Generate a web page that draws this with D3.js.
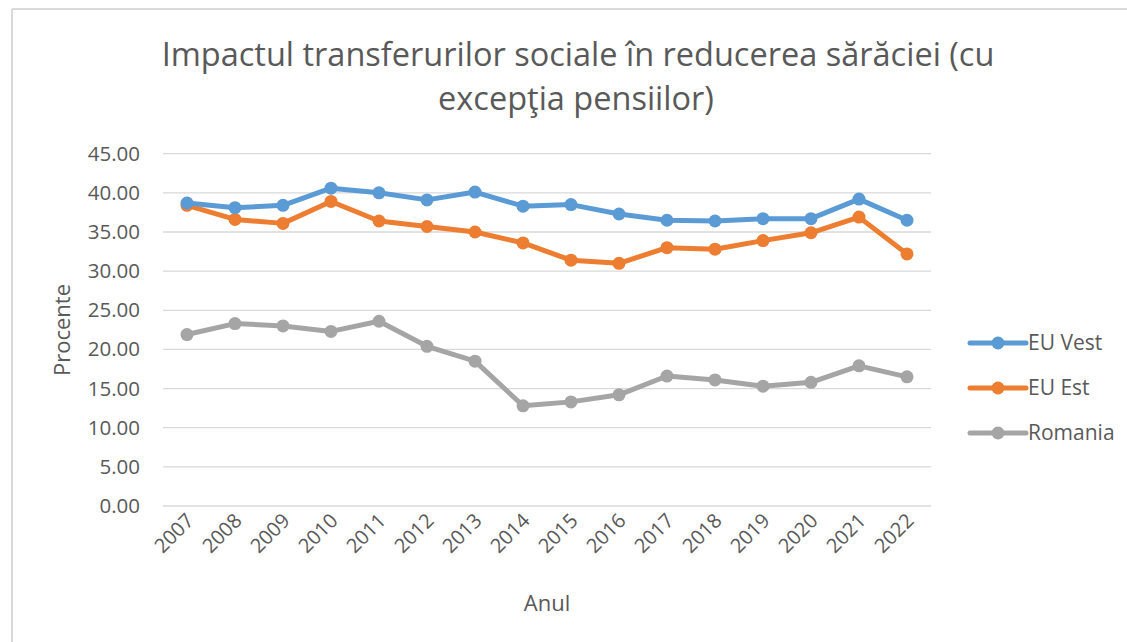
<!DOCTYPE html>
<html>
<head>
<meta charset="utf-8">
<script src="https://cdn.jsdelivr.net/npm/d3@7"></script>
<style>
  body { margin: 0; background: #fff; }
  text { font-family: "Open Sans", "Noto Sans", sans-serif; fill: #595959; }
</style>
</head>
<body>
<svg id="chart" width="1127" height="642"></svg>
<script>
// data
const years = ["2007","2008","2009","2010","2011","2012","2013","2014","2015","2016","2017","2018","2019","2020","2021","2022"];
const euVest = [38.7, 38.1, 38.4, 40.6, 40.0, 39.1, 40.1, 38.3, 38.5, 37.3, 36.5, 36.4, 36.7, 36.7, 39.2, 36.5];
const euEst = [38.4, 36.6, 36.1, 38.9, 36.4, 35.7, 35.0, 33.6, 31.4, 31.0, 33.0, 32.8, 33.9, 34.9, 36.9, 32.2];
const romania = [21.9, 23.3, 23.0, 22.3, 23.6, 20.4, 18.5, 12.8, 13.3, 14.2, 16.6, 16.1, 15.3, 15.8, 17.9, 16.5];
const seriesNames = ["EU Vest", "EU Est", "Romania"];
const seriesColors = ["#5B9BD5", "#ED7D31", "#A5A5A5"];
const yTicks = [0, 5, 10, 15, 20, 25, 30, 35, 40, 45];

const svg = d3.select("#chart");

// outer frame (only top & left visible)
svg.append("line").attr("x1", 12).attr("y1", 9).attr("x2", 1127).attr("y2", 9)
  .attr("stroke", "#D9D9D9").attr("stroke-width", 2);
svg.append("line").attr("x1", 12).attr("y1", 9).attr("x2", 12).attr("y2", 642)
  .attr("stroke", "#D9D9D9").attr("stroke-width", 2);

const margin = {left: 163, right: 931, top: 153.7, bottom: 506};

const x = d3.scaleBand().domain(years).range([margin.left, margin.right]);
const y = d3.scaleLinear().domain([0, 45]).range([margin.bottom, margin.top]);

// title
const title = svg.append("text").attr("text-anchor", "middle").style("font-size", "32.5px");
title.append("tspan").attr("x", 578).attr("y", 66).text("Impactul transferurilor sociale în reducerea sărăciei (cu");
title.append("tspan").attr("x", 576).attr("y", 110).text("excepţia pensiilor)");

// gridlines
svg.append("g")
  .selectAll("line")
  .data(yTicks)
  .join("line")
    .attr("x1", margin.left).attr("x2", margin.right)
    .attr("y1", d => y(d)).attr("y2", d => y(d))
    .attr("stroke", "#D9D9D9").attr("stroke-width", 1.3);

// y axis labels
const yAxis = svg.append("g")
  .attr("transform", "translate(" + (margin.left - 10) + ",0)")
  .call(d3.axisLeft(y).tickValues(yTicks).tickFormat(d3.format(".2f")).tickSize(0).tickPadding(13));
yAxis.select(".domain").remove();
yAxis.selectAll("text").style("font-size", "20.5px").attr("fill", "#595959");

// x axis labels
const xAxis = svg.append("g")
  .attr("transform", "translate(0," + margin.bottom + ")")
  .call(d3.axisBottom(x).tickSize(0).tickPadding(0));
xAxis.select(".domain").remove();
xAxis.selectAll("text")
  .style("font-size", "20px")
  .attr("fill", "#595959")
  .attr("text-anchor", "end")
  .attr("dy", 0)
  .attr("transform", "translate(8,16) rotate(-45)");

// axis titles
svg.append("text")
  .attr("transform", "translate(70,330) rotate(-90)")
  .attr("text-anchor", "middle")
  .style("font-size", "22px")
  .text("Procente");
svg.append("text")
  .attr("x", 547).attr("y", 611)
  .attr("text-anchor", "middle")
  .style("font-size", "22px")
  .text("Anul");

// lines and markers
const allSeries = [euVest, euEst, romania];
const line = d3.line()
  .x((d, i) => x(years[i]) + x.bandwidth() / 2)
  .y(d => y(d));

allSeries.slice().reverse().forEach((vals, k) => {
  const idx = allSeries.length - 1 - k;
  const g = svg.append("g");
  g.append("path")
    .datum(vals)
    .attr("d", line)
    .attr("fill", "none")
    .attr("stroke", seriesColors[idx])
    .attr("stroke-width", 5)
    .attr("stroke-linejoin", "round");
  g.selectAll("circle")
    .data(vals)
    .join("circle")
      .attr("cx", (d, i) => x(years[i]) + x.bandwidth() / 2)
      .attr("cy", d => y(d))
      .attr("r", 6.5)
      .attr("fill", seriesColors[idx]);
});

// legend
const legend = svg.append("g")
  .selectAll("g")
  .data(seriesNames)
  .join("g")
    .attr("transform", (d, i) => "translate(970," + (343 + i * 45) + ")");
legend.append("line")
  .attr("x1", 0).attr("x2", 56)
  .attr("stroke", (d, i) => seriesColors[i])
  .attr("stroke-width", 5)
  .attr("stroke-linecap", "round");
legend.append("circle")
  .attr("cx", 28).attr("r", 6.5)
  .attr("fill", (d, i) => seriesColors[i]);
legend.append("text")
  .attr("x", 58).attr("dy", "0.35em")
  .style("font-size", "21px")
  .text(d => d);
</script>
</body>
</html>
